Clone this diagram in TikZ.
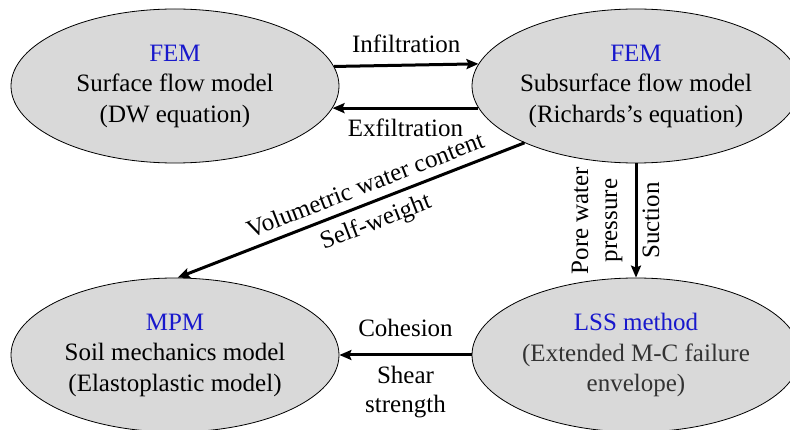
\documentclass[tikz,border=0pt]{standalone}
\usepackage{fontspec}
\setmainfont{Liberation Serif}
\usetikzlibrary{shapes.geometric,arrows.meta}
\definecolor{ellfill}{RGB}{217,217,217}
\definecolor{headblue}{RGB}{24,24,204}
\definecolor{darktext}{RGB}{51,51,51}
\begin{document}
\begin{tikzpicture}[x=1pt,y=-1pt,
  model/.style={ellipse, draw=black, line width=0.8pt, fill=ellfill,
    minimum width=328pt, minimum height=154pt, inner xsep=-12pt, inner ysep=0pt,
    align=center, font=\fontsize{25}{30.5}\selectfont},
  link/.style={line width=3pt},
  tip/.style={-{Stealth[length=12pt,width=10pt,inset=2pt]}},
  revtip/.style={{Stealth[length=12pt,width=10pt,inset=2pt]}-},
  lbl/.style={font=\fontsize{25}{29}\selectfont, align=center}]
\useasboundingbox (0,0) rectangle (790,430);
\node[model] (surf) at (175,86) {\textcolor{headblue}{FEM}\\Surface flow model\\(DW equation)};
\node[model] (sub) at (636,86) {\textcolor{headblue}{FEM}\\Subsurface flow model\\(Richards’s equation)};
\node[model] (soil) at (175,355) {\textcolor{headblue}{MPM}\\Soil mechanics model\\(Elastoplastic model)};
\node[model, text=darktext] (lss) at (636,355) {\textcolor{headblue}{LSS method}\\(Extended M-C failure\\envelope)};

\draw[link, tip] (surf.7.2) -- node[lbl, above=13pt, anchor=base] {Infiltration} (sub.172.8);
\draw[link, tip] (sub.188.76) -- node[lbl, below=28pt, anchor=base] {Exfiltration} (surf.-8.76);
\draw[link, revtip] (soil.88) --
  node[lbl, sloped, pos=0.56, above=5pt] {Volumetric water content}
  node[lbl, sloped, pos=0.55, below=4.5pt] {Self-weight} (sub.207.2);
\draw[link, tip] (sub.south) --
  node[lbl, midway, rotate=90, anchor=north, inner sep=5pt] {Suction}
  node[lbl, midway, rotate=90, anchor=south, inner sep=12pt] {Pore water\\pressure} (lss.north);
\draw[link, tip] (lss.west) --
  node[lbl, above=18pt, anchor=base] {Cohesion}
  node[lbl, below=10pt, inner sep=0pt] {Shear\\strength} (soil.east);
\end{tikzpicture}
\end{document}
